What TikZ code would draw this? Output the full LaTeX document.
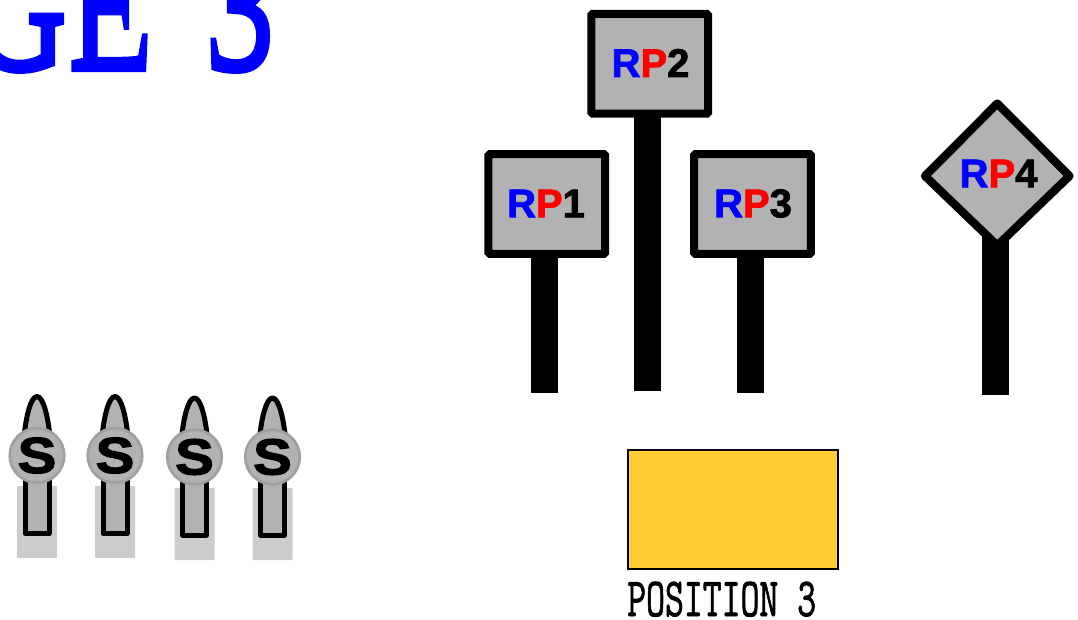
\documentclass[tikz,border=0pt]{standalone}
\usepackage{fontspec}
\setmainfont{Liberation Sans}
\newfontfamily\rpfam[FakeBold=2]{Liberation Sans Bold}
\newfontfamily\sfam[FakeStretch=1.15,FakeBold=2.4]{Liberation Sans Bold}
\newfontfamily\capfam[FakeBold=1.6]{Latin Modern Mono}
\newfontfamily\titlefam[FakeBold=4,FakeStretch=4.4]{Liberation Serif}
\definecolor{signgray}{HTML}{B2B2B2}
\definecolor{ringgray}{HTML}{A0A0A0}
\definecolor{shadowgray}{HTML}{CCCCCC}
\definecolor{padyellow}{HTML}{FFCC33}
\newdimen\pxu \pxu=0.75pt
\tikzset{
 x=0.75pt,y=-0.75pt,
 signbox/.style={draw=black,fill=signgray,line width=6pt,rounded corners=1pt,minimum width=116.7\pxu,minimum height=99.7\pxu,inner sep=0pt},
 signdiamond/.style={draw=black,fill=signgray,line width=6.2pt,line join=round},
 post/.style={fill=black},
 rplabel/.style={font=\rpfam\fontsize{30}{30}\selectfont,inner sep=0pt},
 lever/.style={draw=black,fill=signgray,line width=3.75pt,line join=round},
 knob/.style={circle,draw=ringgray,fill=signgray,line width=2pt,minimum size=54.5\pxu,inner sep=0pt,font=\sfam\fontsize{38}{38}\selectfont},
 pad/.style={draw=black,fill=padyellow,line width=1.5pt},
 caption/.style={font=\capfam\fontsize{27.5}{27}\selectfont,inner sep=0pt,anchor=base west},
 title/.style={font=\titlefam\fontsize{24}{24}\selectfont,text=blue,inner sep=0pt,anchor=base west}
}
\def\rp#1{\textcolor{blue}{R}\textcolor{red}{P}#1}
\newcommand{\switchunit}[5]{% name, x, knob y, shadow top, shadow bottom
 \fill[shadowgray,rounded corners=0.5pt] (#2-20,#4) rectangle (#2+20,#5);
 \draw[lever] (#2-12,#3+78) -- (#2+12,#3+78) -- (#2+12,#3) -- (#2-12,#3) -- cycle;
 \draw[lever] (#2-13,#3-18) .. controls (#2-11,#3-40) and (#2-6,#3-59) .. (#2,#3-59) .. controls (#2+6,#3-59) and (#2+11,#3-40) .. (#2+13,#3-18);
 \node[knob] (#1) at (#2,#3) {S};
}
\begin{document}
\begin{tikzpicture}
\useasboundingbox[clip] (0,0) rectangle (1078,620);
\node[title] (stage) at (-34,68.5) {\scalebox{1}[5.7]{GE\hspace{38pt}3}};
% posts
\fill[post] (531,250) rectangle (558,393);
\fill[post] (634,110) rectangle (661,391);
\fill[post] (737,250) rectangle (764,393);
\fill[post] (982,235) rectangle (1009,395);
% signs
\node[signbox] (rp2) at (649.7,63.8) {};
\node[rplabel] at (650.5,63) {\rp{2}};
\node[signbox] (rp1) at (546.8,204) {};
\node[rplabel] at (546,203.5) {\rp{1}};
\node[signbox] (rp3) at (752.5,204) {};
\node[rplabel] at (753,203.5) {\rp{3}};
\draw[signdiamond] (997.3,103.5) -- (1069.5,176) -- (997.3,245.5) -- (925,176) -- cycle;
\node[rplabel] (rp4) at (998.5,173.5) {\rp{4}};
% switches
\switchunit{s1}{37}{455.5}{486}{558}
\switchunit{s2}{115}{455.5}{486}{558}
\switchunit{s3}{194.5}{457}{488}{560}
\switchunit{s4}{272.5}{457}{488}{560}
% pad
\draw[pad] (627.5,450) rectangle (838,568.5);
\node[caption] (pos) at (627,616) {\scalebox{1}[1.5]{POSITION 3}};
\end{tikzpicture}
\end{document}
